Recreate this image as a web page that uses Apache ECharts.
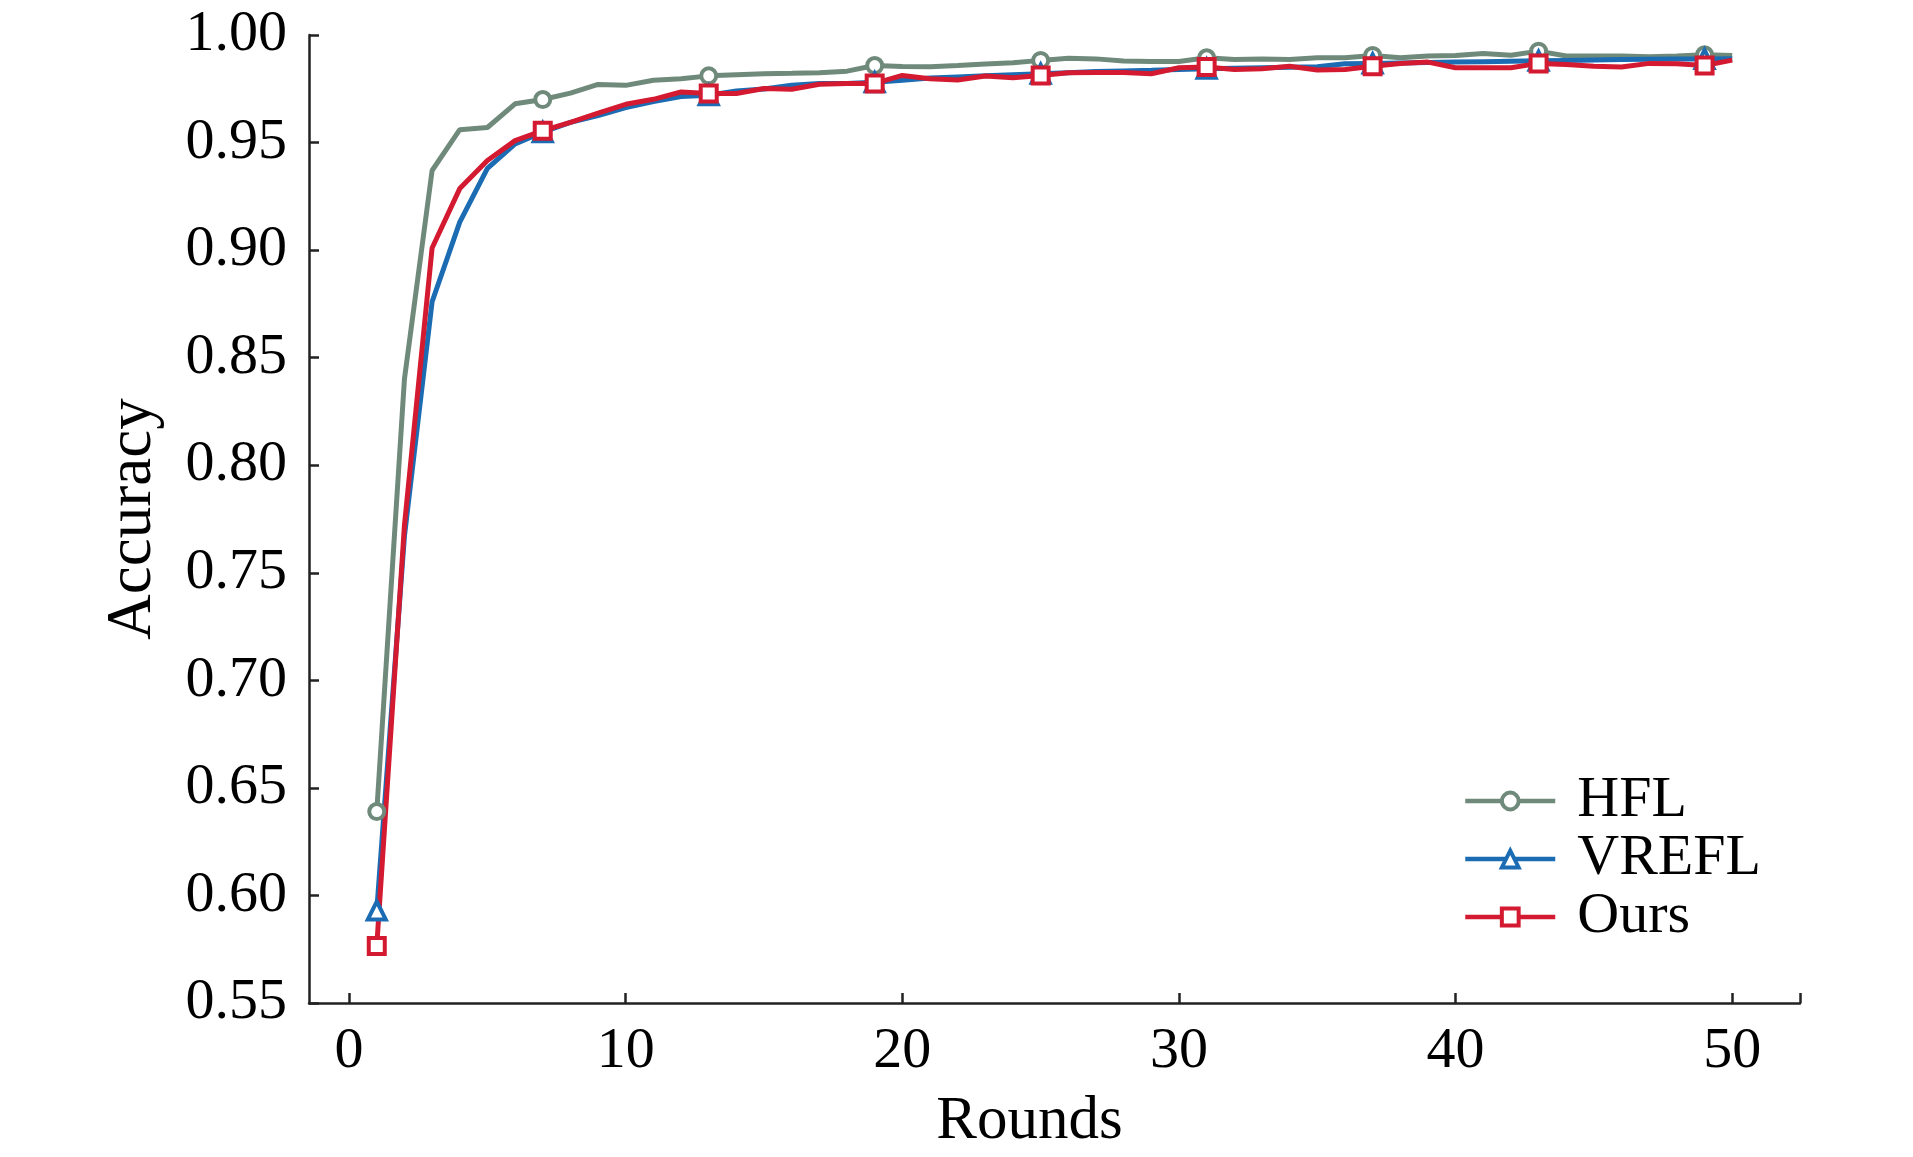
<!DOCTYPE html>
<html>
<head>
<meta charset="utf-8">
<style>
  html, body { margin: 0; padding: 0; background: #fff; }
  #chart { width: 1913px; height: 1157px; }
</style>
<script src="https://cdn.jsdelivr.net/npm/echarts@6/dist/echarts.min.js"></script>
</head>
<body>
<div id="chart"></div>
<script>
var rounds = [];
for (var r = 1; r <= 50; r++) rounds.push(r);

var hfl = [0.639, 0.840, 0.937, 0.956, 0.957, 0.968, 0.970, 0.973, 0.977, 0.9766,
           0.979, 0.9797, 0.981, 0.9815, 0.982, 0.9822, 0.9825, 0.9832, 0.9858, 0.9854,
           0.9852, 0.9858, 0.9865, 0.9871, 0.9882, 0.9892, 0.9889, 0.9879, 0.9877, 0.9877,
           0.9894, 0.9886, 0.9889, 0.9886, 0.9894, 0.9894, 0.9905, 0.9894, 0.9902, 0.9905,
           0.9914, 0.9906, 0.9925, 0.9902, 0.9902, 0.9902, 0.9899, 0.9902, 0.9908, 0.9905];

var vrefl = [0.593, 0.767, 0.876, 0.913, 0.938, 0.9494, 0.9548, 0.9594, 0.9625, 0.9663,
             0.9691, 0.9714, 0.972, 0.974, 0.9749, 0.9766, 0.9775, 0.9775, 0.978, 0.979,
             0.980, 0.9805, 0.981, 0.9815, 0.982, 0.9825, 0.983, 0.9833, 0.9836, 0.984,
             0.9843, 0.9846, 0.9848, 0.985, 0.9852, 0.9866, 0.9868, 0.987, 0.9872, 0.9874,
             0.9876, 0.9878, 0.988, 0.9882, 0.9884, 0.9886, 0.9887, 0.9888, 0.9889, 0.989];

var ours = [0.5765, 0.772, 0.901, 0.9286, 0.9417, 0.9509, 0.9555, 0.9594, 0.9637, 0.9678,
            0.9701, 0.9735, 0.9728, 0.9728, 0.9751, 0.9748, 0.9771, 0.9775, 0.9775, 0.9812,
            0.9797, 0.9791, 0.9809, 0.9801, 0.9812, 0.9824, 0.9826, 0.9826, 0.982, 0.9848,
            0.9851, 0.984, 0.9843, 0.9855, 0.9837, 0.984, 0.9855, 0.9868, 0.9874, 0.9848,
            0.9848, 0.9848, 0.9868, 0.9863, 0.9855, 0.9851, 0.9868, 0.9866, 0.9858, 0.9883];

var xTicks = [0, 10, 20, 30, 40, 50];
var font = 'Liberation Serif';

var mychart = echarts.init(document.getElementById('chart'));

// markers only on every 6th round (1, 7, 13, ...)
function buildData(vals) {
    return vals.map(function (v, i) {
        var item = { value: [rounds[i], v] };
        if (i % 6 !== 0) item.symbol = 'none';
        return item;
    });
}

function makeSeries(name, vals, color, symbol, size) {
    return {
        name: name,
        type: 'line',
        data: buildData(vals),
        symbol: symbol,
        symbolSize: size,
        showSymbol: true,
        showAllSymbol: true,
        lineStyle: { color: color, width: 5 },
        itemStyle: { color: '#fff', borderColor: color, borderWidth: 4 },
        emphasis: { disabled: true },
        animation: false
    };
}

var option = {
    backgroundColor: '#fff',
    grid: { left: 309, right: 113, top: 35, bottom: 135, containLabel: false },
    legend: {
        orient: 'vertical',
        left: 1463,
        top: 772,
        padding: 0,
        itemWidth: 90,
        itemHeight: 21,
        itemGap: 0,
        lineStyle: { width: 4.5 },
        itemStyle: { borderWidth: 4 },
        textStyle: {
            fontFamily: font,
            fontSize: 58,
            color: '#000',
            lineHeight: 50,
            padding: [0, 0, 0, 17]
        },
        data: ['HFL', 'VREFL', 'Ours']
    },
    xAxis: {
        type: 'value',
        min: -1.45,
        max: 52.45,
        name: 'Rounds',
        nameLocation: 'middle',
        nameGap: 88,
        nameTextStyle: { fontFamily: font, fontSize: 61, color: '#000', padding: [0, 50, 0, 0] },
        axisLine: { onZero: false, lineStyle: { color: '#222', width: 2.5 } },
        axisTick: { inside: true, length: 10, customValues: xTicks.concat([52.45]), lineStyle: { color: '#222', width: 2.5 } },
        axisLabel: { customValues: xTicks, margin: 20, fontFamily: font, fontSize: 58, color: '#000' },
        splitLine: { show: false }
    },
    yAxis: {
        type: 'value',
        min: 0.55,
        max: 1.0,
        interval: 0.05,
        name: 'Accuracy',
        nameLocation: 'middle',
        nameGap: 144,
        nameTextStyle: { fontFamily: font, fontSize: 63, color: '#000' },
        axisLine: { show: true, onZero: false, lineStyle: { color: '#222', width: 2.5 } },
        axisTick: { show: true, inside: true, length: 10, lineStyle: { color: '#222', width: 2.5 } },
        axisLabel: {
            margin: 22,
            fontFamily: font,
            fontSize: 58,
            color: '#000',
            formatter: function (v) { return v.toFixed(2); }
        },
        splitLine: { show: false }
    },
    series: [
        makeSeries('HFL', hfl, '#6f8a7b', 'circle', 15),
        makeSeries('VREFL', vrefl, '#1b6cb3', 'triangle', 18),
        makeSeries('Ours', ours, '#d31a30', 'rect', 16)
    ]
};

mychart.setOption(option);
</script>
</body>
</html>
